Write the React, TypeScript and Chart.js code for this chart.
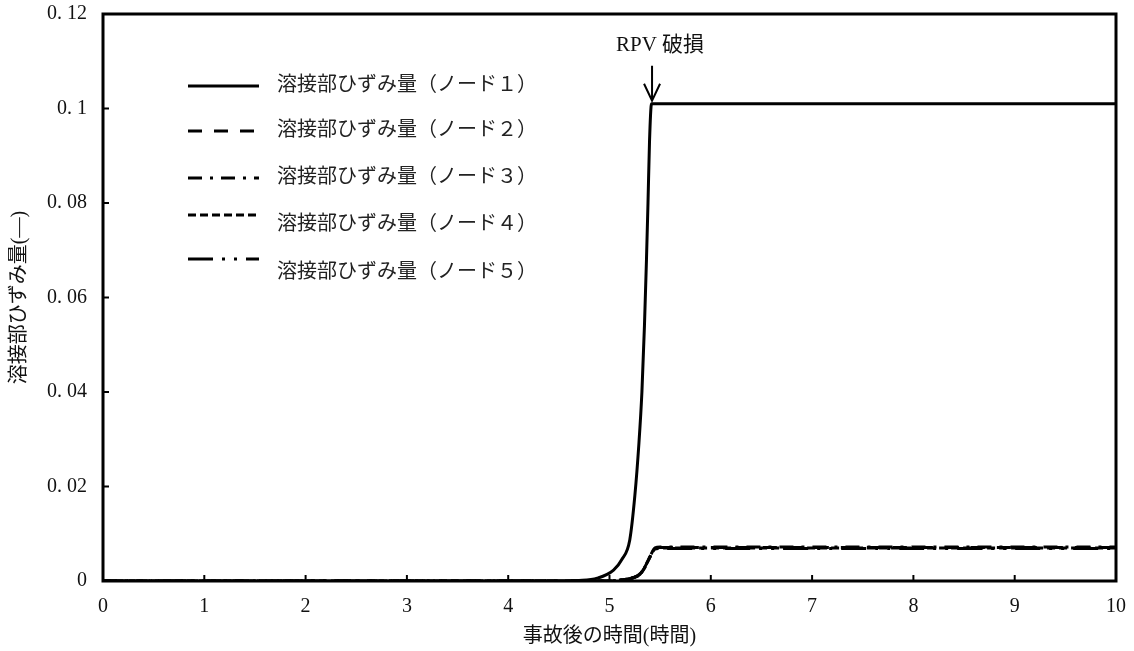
import React, { useEffect, useRef } from "react";
import { Chart, registerables } from "chart.js";

Chart.register(...registerables);

const time1 = [0, 4.5, 4.7, 4.88, 5.04, 5.12, 5.2, 5.25, 5.29, 5.32, 5.345, 5.365, 5.38, 5.395, 5.415, 10];
const node1 = [0, 0, 0.0001, 0.0006, 0.0023, 0.0045, 0.0087, 0.018, 0.029, 0.04, 0.054, 0.068, 0.08, 0.093, 0.101, 0.101];

const timeN = [0, 5.0, 5.1, 5.2, 5.25, 5.3, 5.35, 5.4, 5.45, 5.5, 6, 7, 8, 9, 10];
const node2 = [0, 0, 0.0002, 0.0005, 0.0008, 0.0015, 0.003, 0.0052, 0.0069, 0.0071, 0.0071, 0.0071, 0.0071, 0.0071, 0.0071];
const node3 = [0, 0, 0.0002, 0.0005, 0.0008, 0.0015, 0.003, 0.0052, 0.007, 0.0072, 0.0072, 0.0072, 0.0072, 0.0072, 0.0072];
const node4 = [0, 0, 0.0002, 0.0005, 0.0008, 0.0014, 0.0029, 0.0051, 0.0068, 0.007, 0.007, 0.007, 0.007, 0.007, 0.007];
const node5 = [0, 0, 0.0002, 0.0005, 0.0008, 0.0014, 0.0029, 0.0051, 0.0068, 0.0069, 0.0069, 0.0069, 0.0069, 0.0069, 0.0069];

const seriesLabels = [
  "溶接部ひずみ量（ノード１）",
  "溶接部ひずみ量（ノード２）",
  "溶接部ひずみ量（ノード３）",
  "溶接部ひずみ量（ノード４）",
  "溶接部ひずみ量（ノード５）",
];
const xTitle = "事故後の時間(時間)";
const yTitle = "溶接部ひずみ量(—)";
const annotationText = "RPV 破損";
const failureTime = 5.42;
const failureValue = 0.101;

const FONT = '"Liberation Serif", "DejaVu Serif", "Noto Sans CJK JP", serif';

const dashes = [[], [14, 12], [14, 8, 3, 8], [8, 4], [25, 9, 3, 9, 3, 9]];

const toPts = (xs: number[], ys: number[]) => xs.map((x, i) => ({ x, y: ys[i] }));

const framePlugin = {
  id: "frame",
  afterDatasetsDraw(chart: any) {
    const { ctx, chartArea: a, scales } = chart;
    ctx.save();
    ctx.strokeStyle = "#000";
    ctx.lineWidth = 2;
    scales.x.ticks.forEach((t: any) => {
      const px = scales.x.getPixelForValue(t.value);
      ctx.beginPath();
      ctx.moveTo(px, a.bottom);
      ctx.lineTo(px, a.bottom - 6);
      ctx.stroke();
    });
    scales.y.ticks.forEach((t: any) => {
      const py = scales.y.getPixelForValue(t.value);
      ctx.beginPath();
      ctx.moveTo(a.left, py);
      ctx.lineTo(a.left + 6, py);
      ctx.stroke();
    });
    ctx.lineWidth = 3;
    ctx.strokeRect(a.left, a.top, a.right - a.left, a.bottom - a.top);

    const ax = scales.x.getPixelForValue(failureTime);
    const ay = scales.y.getPixelForValue(failureValue);
    ctx.fillStyle = "#111";
    ctx.font = `21px ${FONT}`;
    ctx.textAlign = "center";
    ctx.textBaseline = "middle";
    ctx.fillText(annotationText, ax + 8, ay - 58);
    ctx.lineWidth = 2;
    ctx.beginPath();
    ctx.moveTo(ax, ay - 38);
    ctx.lineTo(ax, ay - 4);
    ctx.moveTo(ax - 8, ay - 20);
    ctx.lineTo(ax, ay - 3);
    ctx.lineTo(ax + 8, ay - 20);
    ctx.stroke();

    const rows = [
      { ly: 86, ty: 86 },
      { ly: 131, ty: 131 },
      { ly: 178, ty: 178 },
      { ly: 215, ty: 225 },
      { ly: 259, ty: 273 },
    ];
    chart.data.datasets.forEach((ds: any, i: number) => {
      const r = rows[i];
      ctx.strokeStyle = "#000";
      ctx.setLineDash(ds.borderDash || []);
      ctx.lineWidth = 3;
      ctx.beginPath();
      ctx.moveTo(188, r.ly);
      ctx.lineTo(259, r.ly);
      ctx.stroke();
      ctx.setLineDash([]);
      ctx.font = `20px ${FONT}`;
      ctx.textAlign = "left";
      ctx.fillStyle = "#222";
      ctx.fillText(ds.label, 277, r.ty);
    });
    ctx.restore();
  },
};

const fmt = (v: number) => {
  const s = Number(v.toFixed(2)).toString();
  return s.replace(".", ". ");
};

export default function App() {
  const ref = useRef<HTMLCanvasElement>(null);
  useEffect(() => {
    if (!ref.current) return;
    const seriesData = [toPts(time1, node1), toPts(timeN, node2), toPts(timeN, node3), toPts(timeN, node4), toPts(timeN, node5)];
    const chart = new Chart(ref.current, {
      type: "line",
      data: {
        datasets: seriesData.map((d, i) => ({
          label: seriesLabels[i],
          data: d,
          borderColor: "#000",
          borderWidth: 3,
          borderDash: dashes[i],
          pointRadius: 0,
          fill: false,
          cubicInterpolationMode: "monotone" as const,
        })),
      },
      options: {
        responsive: false,
        animation: false,
        layout: { padding: { left: 0, top: 14, right: 18, bottom: 0 } },
        plugins: { legend: { display: false }, tooltip: { enabled: false } },
        scales: {
          x: {
            type: "linear",
            min: 0,
            max: 10,
            ticks: { stepSize: 1, color: "#111", font: { family: FONT, size: 20 }, padding: 14, maxRotation: 0 },
            grid: { display: false, drawTicks: false },
            border: { display: false },
            title: { display: true, text: xTitle, color: "#111", font: { family: FONT, size: 20 }, padding: { top: 2, bottom: 2 } },
            afterFit: (s: any) => { s.height = 70; s.paddingLeft = 0; s.paddingRight = 0; },
          },
          y: {
            type: "linear",
            min: 0,
            max: 0.12,
            ticks: { stepSize: 0.02, color: "#111", font: { family: FONT, size: 20 }, padding: 16, callback: (v: any) => fmt(Number(v)) },
            grid: { display: false, drawTicks: false },
            border: { display: false },
            title: { display: true, text: yTitle, color: "#111", font: { family: FONT, size: 20 }, padding: { top: 8, bottom: 4 } },
            afterFit: (s: any) => { s.width = 103; s.paddingTop = 0; s.paddingBottom = 0; },
          },
        },
      },
      plugins: [framePlugin],
    });
    return () => chart.destroy();
  }, []);
  return (
    <div style={{ position: "fixed", left: 0, top: 0, width: 1134, height: 651, background: "#fff" }}>
      <canvas ref={ref} width={1134} height={651} />
    </div>
  );
}
